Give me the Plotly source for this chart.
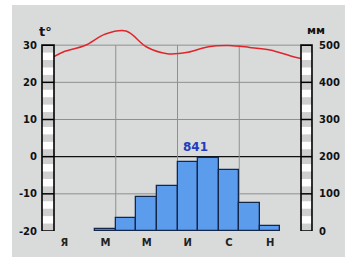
import plotly.graph_objects as go

# ---- data ----
months = list(range(1, 13))
month_tick_pos = [1, 3, 5, 7, 9, 11]
month_tick_text = ["Я", "М", "М", "И", "С", "Н"]
precip_mm = [0, 0, 5, 35, 91, 121, 185, 196, 164, 75, 13, 0]
temp_x = [0.5, 1, 2, 3, 4, 5, 6, 7, 8, 9, 10, 11, 12, 12.5]
temp_c = [26.9, 28.3, 29.9, 33.0, 33.8, 29.5, 27.7, 28.1, 29.6, 29.9, 29.4, 28.7, 27.1, 26.4]
annual_total = "841"
temp_ticks = [-20, -10, 0, 10, 20, 30]
temp_ticktext = ["-20", "-10", "0", "10", "20", "30"]
precip_ticks = [0, 100, 200, 300, 400, 500]

FONT = "DejaVu Sans"

fig = go.Figure()

# months without precipitation draw no bar at all
bar_vals = [v if v > 0 else None for v in precip_mm]
fig.add_trace(go.Bar(
    x=months, y=bar_vals, yaxis="y2", width=1,
    marker=dict(color="#5b9cec", line=dict(color="#14264a", width=1.3)),
    showlegend=False, hoverinfo="skip"))

fig.add_trace(go.Scatter(
    x=temp_x, y=temp_c, mode="lines",
    line=dict(color="#e0262b", width=1.5, shape="spline", smoothing=1.0),
    showlegend=False, hoverinfo="skip"))

shapes = []
# background texture panel
shapes.append(dict(type="rect", xref="paper", yref="paper", x0=-0.17, x1=1.178,
                   y0=-0.117, y1=1.013, fillcolor="#d9dbdb", line=dict(width=0), layer="below"))
# horizontal grid lines
for t in [-10, 10, 20, 30]:
    shapes.append(dict(type="line", xref="paper", yref="y", x0=0, x1=1, y0=t, y1=t,
                       line=dict(color="#8e9090", width=1), layer="below"))
shapes.append(dict(type="line", xref="paper", yref="y", x0=0, x1=1, y0=0, y1=0,
                   line=dict(color="#111111", width=1.2), layer="below"))
# vertical grid lines
for xv in [3.5, 6.5, 9.5]:
    shapes.append(dict(type="line", xref="x", yref="y", x0=xv, x1=xv, y0=-20, y1=30,
                       line=dict(color="#8e9090", width=1), layer="below"))
# scale bars
for (bx0, bx1) in [(-0.0486, 0.0), (1.0, 1.0445)]:
    shapes.append(dict(type="rect", xref="paper", yref="y", x0=bx0, x1=bx1, y0=-20, y1=30,
                       fillcolor="#ffffff", line=dict(width=0)))
    for seg in range(-20, 30, 10):
        for off in (0, 4, 8):
            shapes.append(dict(type="rect", xref="paper", yref="y", x0=bx0, x1=bx1,
                               y0=seg + off, y1=seg + off + 2,
                               fillcolor="#cfcfcf", line=dict(width=0)))
    for t in [-10, 0, 10, 20]:
        shapes.append(dict(type="line", xref="paper", yref="y", x0=bx0, x1=bx1, y0=t, y1=t,
                           line=dict(color="#000000", width=1.5)))
    shapes.append(dict(type="rect", xref="paper", yref="y", x0=bx0, x1=bx1, y0=-20, y1=30,
                       line=dict(color="#000000", width=1.6)))

annotations = [
    dict(text="<b>t°</b>", xref="paper", yref="paper", x=-0.069, y=0.937, showarrow=False,
         font=dict(family=FONT, size=13, color="#111111")),
    dict(text="<b>мм</b>", xref="paper", yref="paper", x=1.105, y=0.935, showarrow=False,
         font=dict(family=FONT, size=11, color="#111111")),
    dict(text="<b>" + annual_total + "</b>", xref="x", yref="y", x=7.35, y=2.6, showarrow=False,
         font=dict(family=FONT, size=12, color="#1f3cc0")),
]

fig.update_layout(
    width=361, height=259,
    margin=dict(l=54, r=60, t=8, b=28, pad=0),
    paper_bgcolor="#ffffff", plot_bgcolor="rgba(0,0,0,0)",
    template="none",
    bargap=0,
    shapes=shapes, annotations=annotations,
    xaxis=dict(range=[0.5, 12.5], tickvals=month_tick_pos, ticktext=month_tick_text,
               showgrid=False, zeroline=False, showline=False,
               ticks="outside", ticklen=2, tickcolor="rgba(0,0,0,0)",
               tickfont=dict(family=FONT, size=10, color="#222222", weight="bold")),
    yaxis=dict(range=[-20, 40], tickvals=temp_ticks, ticktext=temp_ticktext,
               showgrid=False, zeroline=False, showline=False,
               ticks="outside", ticklen=14, tickcolor="rgba(0,0,0,0)",
               tickfont=dict(family=FONT, size=10, color="#111111", weight="bold")),
    yaxis2=dict(range=[0, 600], tickvals=precip_ticks, overlaying="y", side="right",
                showgrid=False, zeroline=False, showline=False,
                ticks="outside", ticklen=15, tickcolor="rgba(0,0,0,0)",
                tickfont=dict(family=FONT, size=10, color="#111111", weight="bold")),
)

fig.write_html("out.html")
